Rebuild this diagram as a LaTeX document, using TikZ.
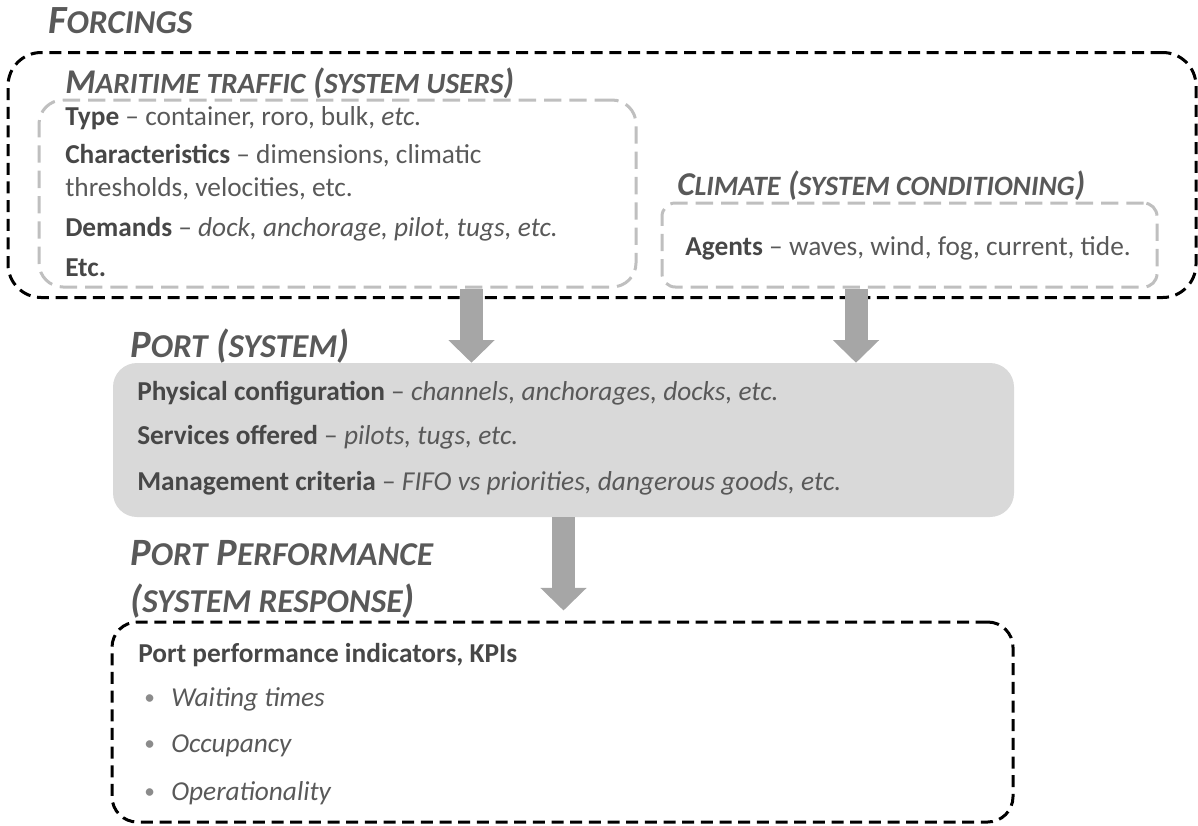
\documentclass[tikz,border=0pt]{standalone}
\usepackage{fontspec}
\setmainfont{Carlito}
\usetikzlibrary{arrows.meta}
\definecolor{txtGray}{HTML}{595959}
\definecolor{boldGray}{HTML}{474747}
\definecolor{headGray}{HTML}{595959}
\definecolor{boxGray}{HTML}{BFBFBF}
\definecolor{portFill}{HTML}{D9D9D9}
\definecolor{arrowGray}{HTML}{A6A6A6}
\newcommand{\smcsize}{22}
\newcommand{\headfont}[2]{\fontsize{#1}{#1}\selectfont\renewcommand{\smcsize}{#2}\bfseries\itshape}
\newcommand{\smc}[1]{{\fontsize{\smcsize}{\smcsize}\selectfont #1}}
\newcommand{\lbl}[1]{{\bfseries\color{boldGray}#1}}

\begin{document}
\begin{tikzpicture}[x=0.75pt, y=-0.75pt,
    heading/.style={anchor=base west, inner sep=0pt, text=headGray,
        font=\headfont{26}{22}},
    body/.style={anchor=base west, inner sep=0pt, text=txtGray,
        font=\fontsize{20.5}{24}\selectfont},
    dot/.style={body, text=txtGray!70, font=\fontsize{16}{20}\selectfont},
    blackbox/.style={draw=black, line width=2.25pt, dash pattern=on 9pt off 5pt},
    graybox/.style={draw=boxGray, line width=2.25pt, dash pattern=on 13pt off 6pt},
    blockarrow/.style={draw=arrowGray, line width=17.25pt,
        -{Triangle[length=17pt, width=33.75pt]}}]

    \useasboundingbox (0,0) rectangle (1198,825);

    % forcings
    \node[heading, font=\headfont{30}{25}] (forcingsT) at (48,33) {F\smc{ORCINGS}};
    \node[blackbox, rounded corners=25pt, minimum width=891pt, minimum height=183.75pt] (forcings) at (602,175) {};

    % maritime traffic
    \node[heading] (maritimeT) at (65,93) {M\smc{ARITIME TRAFFIC} (\smc{SYSTEM USERS})};
    \node[graybox, rounded corners=18pt, minimum width=447.75pt, minimum height=140.25pt] (maritime) at (337.5,193.5) {};
    \node[body] (type) at (65,125) {\lbl{Type} -- container, roro, bulk, \textit{etc.}};
    \node[body] (charac) at (65,163) {\lbl{Characteristics} -- dimensions, climatic};
    \node[body] (thresh) at (65,196) {thresholds, velocities, etc.};
    \node[body] (demands) at (65,236) {\lbl{Demands} -- \textit{dock, anchorage, pilot, tugs, etc.}};
    \node[body] (etc) at (65,276) {\lbl{Etc.}};

    % climate
    \node[heading, font=\headfont{25}{21}] (climateT) at (677,195) {C\smc{LIMATE} (\smc{SYSTEM CONDITIONING})};
    \node[graybox, rounded corners=10pt, minimum width=371.25pt, minimum height=63pt] (climate) at (909.5,245) {};
    \node[body] (agents) at (685,255) {\lbl{Agents} -- waves, wind, fog, current, tide.};

    % port
    \node[heading, font=\headfont{29}{25}] (portT) at (130,357) {P\smc{ORT} (\smc{SYSTEM})};
    \node[fill=portFill, rounded corners=18pt, minimum width=675.75pt, minimum height=115.5pt] (port) at (563.5,440) {};
    \node[body] (physical) at (137,400) {\lbl{Physical configuration} -- \textit{channels, anchorages, docks, etc.}};
    \node[body] (services) at (137,444) {\lbl{Services offered} -- \textit{pilots, tugs, etc.}};
    \node[body] (management) at (137,490) {\lbl{Management criteria} -- \textit{FIFO vs priorities, dangerous goods, etc.}};

    % port performance
    \node[heading, font=\headfont{29}{25}] (perfT) at (130,565) {P\smc{ORT} P\smc{ERFORMANCE}};
    \node[heading, font=\headfont{29}{25}] (respT) at (130,612) {(\smc{SYSTEM RESPONSE})};
    \node[blackbox, rounded corners=19pt, minimum width=675.75pt, minimum height=150pt] (kpi) at (562.5,722) {};
    \node[body] (kpiT) at (138,662) {\lbl{Port performance indicators, KPIs}};
    \node[dot] (b1) at (144,704) {\textbullet};
    \node[body] (waiting) at (171,706) {\textit{Waiting times}};
    \node[dot] (b2) at (144,750) {\textbullet};
    \node[body] (occupancy) at (171,752) {\textit{Occupancy}};
    \node[dot] (b3) at (144,798) {\textbullet};
    \node[body] (operation) at (171,800) {\textit{Operationality}};

    % arrows
    \coordinate (a1) at (471.5,0);
    \coordinate (a2) at (856,0);
    \draw[blockarrow] (maritime.south -| a1) -- (port.north -| a1);
    \draw[blockarrow] (climate.south -| a2) -- (port.north -| a2);
    \draw[blockarrow, shorten >=7.5pt] (port.south) -- (port.south |- kpi.north);

\end{tikzpicture}
\end{document}
